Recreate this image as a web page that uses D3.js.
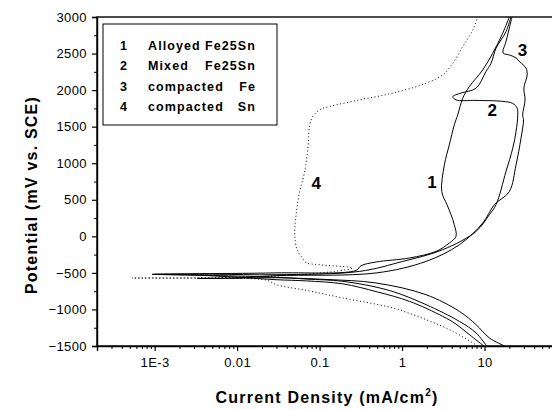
<!DOCTYPE html>
<html>
<head>
<meta charset="utf-8">
<script src="https://cdn.jsdelivr.net/npm/d3@7"></script>
<style>
  body { margin: 0; background: #fff; }
  svg { display: block; font-family: "Liberation Sans", Arial, sans-serif; }
</style>
</head>
<body>
<div id="chart"></div>
<script>
// tick values / labels
const xTicks = [1e-3, 0.01, 0.1, 1, 10];
const xTickLabels = ["1E-3", "0.01", "0.1", "1", "10"];
const yTicks = [-1500, -1000, -500, 0, 500, 1000, 1500, 2000, 2500, 3000];

// legend
const legendNums = ["1", "2", "3", "4"];
const legendNames = [["Alloyed", "Fe25Sn"], ["Mixed", "Fe25Sn"], ["compacted", "Fe"], ["compacted", "Sn"]];

// curves: [current density mA/cm2, potential mV]
const alloyed = [[9.8,-1500],[6.54,-1344],[4.5,-1200],[3.11,-1094],[1.23,-889],[0.5,-760],[0.191,-650],[0.07,-610],[0.0297,-593],[0.0082,-553],[0.0027,-528],[0.00093,-520],[0.0027,-512],[0.0297,-500],[0.277,-466],[0.318,-402],[0.484,-351],[1.23,-296],[2.58,-206],[3.74,-92],[4.51,0],[4.3,158],[3.93,295],[3.51,432],[3.03,613],[3.26,978],[3.74,1251],[4.3,1525],[4.73,1661],[5.44,1889],[6.54,2048],[9.51,2276],[12.57,2504],[16.6,2777],[19.97,3000]];
const mixed = [[10.6,-1500],[7.89,-1321],[4.95,-1163],[1.95,-934],[0.7,-740],[0.191,-615],[0.07,-585],[0.03,-560],[0.005,-535],[0.001,-520],[0.005,-518],[0.0297,-525],[0.303,-480],[1.02,-343],[3.11,-183],[7.89,67],[11.43,295],[13.78,432],[18.2,887],[22.0,1206],[24.1,1433],[25.3,1661],[24.8,1757],[22.0,1818],[16.6,1846],[7.89,1859],[4.51,1866],[4.12,1911],[5.2,1960],[7.89,2026],[10.4,2253],[12.0,2367],[13.78,2572],[18.2,2799],[20.9,3000]];
const compFe = [[17.5,-1500],[11.43,-1389],[7.89,-1208],[4.95,-1026],[1.95,-798],[0.484,-638],[0.12,-590],[0.0297,-566],[0.01,-572],[0.0033,-575],[0.01,-570],[0.0297,-538],[0.484,-501],[1.95,-343],[4.95,-115],[9.51,182],[13.15,432],[19.97,613],[24.1,978],[27.7,1343],[29.7,1593],[29.0,1661],[31.0,1866],[30.0,2030],[32.9,2208],[31.8,2303],[26.9,2385],[24.1,2440],[20.0,2481],[16.8,2508],[18.2,2663],[19.97,2846],[21.5,3000]];
const compSn = [[8.3,-1500],[4.12,-1299],[1.95,-1139],[0.772,-980],[0.191,-843],[0.07,-740],[0.0297,-661],[0.0229,-600],[0.005,-575],[0.00053,-570],[0.005,-566],[0.05,-530],[0.15,-480],[0.252,-433],[0.0986,-388],[0.0685,-361],[0.0614,-292],[0.0534,-183],[0.05,22],[0.0519,295],[0.0569,596],[0.0655,869],[0.0719,1183],[0.0789,1593],[0.0996,1730],[0.1315,1775],[0.303,1866],[0.77,1958],[1.95,2094],[3.11,2208],[4.12,2367],[5.44,2594],[7.19,2822],[8.27,3000]];

// curve number annotations (data coords)
const noteText = ["1", "2", "3", "4"];
const noteI = [2.31, 12.4, 28.9, 0.091];
const noteE = [745, 1729, 2549, 728];

const width = 552, height = 410;
const svg = d3.select("#chart").append("svg")
  .attr("width", width).attr("height", height);

const x = d3.scaleLog().domain([2e-4, 100]).range([97, 567]);
const y = d3.scaleLinear().domain([-1500, 3000]).range([346, 17]);

// frame
svg.append("rect")
  .attr("x", x.range()[0]).attr("y", y.range()[1])
  .attr("width", x.range()[1] - x.range()[0])
  .attr("height", y.range()[0] - y.range()[1])
  .attr("fill", "none").attr("stroke", "#000").attr("stroke-width", 1.4);

// minor ticks
const xMinor = [];
[-4, -3, -2, -1, 0, 1].forEach(p => {
  for (let k = 2; k <= 9; k++) {
    const v = k * Math.pow(10, p);
    if (v >= 2e-4 && v <= 100) xMinor.push(v);
  }
});
const yMinor = d3.range(-1250, 3000, 500);

svg.append("g")
  .attr("transform", "translate(0," + y.range()[0] + ")")
  .call(d3.axisBottom(x).tickValues(xMinor).tickSize(3).tickFormat(""))
  .call(g => g.select(".domain").remove());

svg.append("g")
  .attr("transform", "translate(" + x.range()[0] + ",0)")
  .call(d3.axisLeft(y).tickValues(yMinor).tickSize(3).tickFormat(""))
  .call(g => g.select(".domain").remove());

// major axes
const xAxis = svg.append("g")
  .attr("transform", "translate(0," + y.range()[0] + ")")
  .call(d3.axisBottom(x).tickValues(xTicks).tickSize(5).tickPadding(7)
    .tickFormat((d, i) => xTickLabels[i]));

const yAxis = svg.append("g")
  .attr("transform", "translate(" + x.range()[0] + ",0)")
  .call(d3.axisLeft(y).tickValues(yTicks).tickSize(5).tickPadding(5)
    .tickFormat(d3.format("d")));

[xAxis, yAxis].forEach(g => {
  g.select(".domain").attr("stroke-width", 1.4);
  g.selectAll(".tick line").attr("stroke-width", 1.2);
  g.selectAll(".tick text")
    .attr("fill", "#000")
    .style("font-family", "Liberation Sans, Arial, sans-serif")
    .style("font-size", "13px")
    .style("letter-spacing", "0.4px");
});
svg.selectAll(".tick line").attr("stroke", "#000");

// curves
const line = d3.line().x(d => x(d[0])).y(d => y(d[1]))
  .curve(d3.curveCatmullRom.alpha(0.5));
[alloyed, mixed, compFe].forEach(c => {
  svg.append("path").attr("d", line(c))
    .attr("fill", "none").attr("stroke", "#000").attr("stroke-width", 1);
});
svg.append("path").attr("d", line(compSn))
  .attr("fill", "none").attr("stroke", "#000").attr("stroke-width", 1)
  .attr("stroke-dasharray", "1,2.5");

// curve numbers
svg.selectAll("text.note")
  .data(noteText)
  .join("text")
  .attr("class", "note")
  .attr("x", (d, i) => x(noteI[i]))
  .attr("y", (d, i) => y(noteE[i]))
  .attr("dy", "0.36em")
  .attr("text-anchor", "middle")
  .style("font-weight", "bold")
  .style("font-size", "17px")
  .text(d => d);

// legend
const lg = svg.append("g");
lg.append("rect")
  .attr("x", 103).attr("y", 24).attr("width", 174).attr("height", 101)
  .attr("fill", "#fff").attr("stroke", "#000").attr("stroke-width", 1);
legendNums.forEach((n, i) => {
  const by = 49.5 + i * 20.5;
  lg.append("text").attr("x", 120).attr("y", by).text(n);
  lg.append("text").attr("x", 148).attr("y", by).text(legendNames[i][0]);
  lg.append("text").attr("x", 256).attr("y", by)
    .attr("text-anchor", "end").text(legendNames[i][1]);
});
lg.selectAll("text")
  .style("font-weight", "bold")
  .style("font-size", "12.5px")
  .style("letter-spacing", "1.1px");

// axis titles
svg.append("text")
  .attr("x", 327).attr("y", 403)
  .attr("text-anchor", "middle")
  .style("font-weight", "bold")
  .style("font-size", "16px")
  .style("letter-spacing", "1.2px")
  .text("Current Density (mA/cm")
  .append("tspan").attr("dy", -7).style("font-size", "10px").text("2")
  .select(function() { return this.parentNode; })
  .append("tspan").attr("dy", 7).text(")");

svg.append("text")
  .attr("transform", "translate(37,195) rotate(-90)")
  .attr("text-anchor", "middle")
  .style("font-weight", "bold")
  .style("font-size", "16px")
  .style("letter-spacing", "1.2px")
  .text("Potential (mV vs. SCE)");
</script>
</body>
</html>
